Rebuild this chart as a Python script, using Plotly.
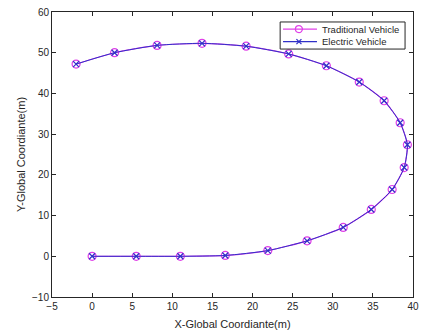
import plotly.graph_objects as go

x_trad = [0, 5.5, 11.0, 16.6, 21.9, 26.8, 31.3, 34.8, 37.4, 38.9, 39.3, 38.4, 36.4, 33.3, 29.2, 24.5, 19.2, 13.7, 8.1, 2.8, -2.0]
y_trad = [0, 0, 0, 0.2, 1.4, 3.8, 7.1, 11.5, 16.4, 21.8, 27.4, 32.8, 38.2, 42.8, 46.8, 49.7, 51.6, 52.3, 51.8, 50.0, 47.2]
x_elec = [0, 5.5, 11.0, 16.6, 21.9, 26.8, 31.3, 34.8, 37.4, 38.9, 39.3, 38.4, 36.4, 33.3, 29.2, 24.5, 19.2, 13.7, 8.1, 2.8, -2.0]
y_elec = [0, 0, 0, 0.2, 1.4, 3.8, 7.1, 11.5, 16.4, 21.8, 27.4, 32.8, 38.2, 42.8, 46.8, 49.7, 51.6, 52.3, 51.8, 50.0, 47.2]
series_names = ["Traditional Vehicle", "Electric Vehicle"]

TRAD_C = "#e040e8"
ELEC_C = "#3030c8"
FONT = "Liberation Sans, Arial"
TXT_C = "#262626"

fig = go.Figure()
fig.add_trace(go.Scatter(
    x=x_trad, y=y_trad, mode="lines+markers", name=series_names[0],
    line=dict(color=TRAD_C, width=1.2, shape="spline", smoothing=0.6),
    marker=dict(symbol="circle-open", size=8, color=TRAD_C, line=dict(width=1.2, color=TRAD_C)),
))
fig.add_trace(go.Scatter(
    x=x_elec, y=y_elec, mode="lines+markers", name=series_names[1],
    line=dict(color=ELEC_C, width=1.0, shape="spline", smoothing=0.6),
    marker=dict(symbol="x-thin-open", size=6, color=ELEC_C, line=dict(width=1.2, color=ELEC_C)),
))

axis_common = dict(
    showgrid=False, zeroline=False, showline=True, linecolor=TXT_C, linewidth=1,
    mirror="allticks", ticks="inside", ticklen=4, tickcolor=TXT_C, automargin=False,
    tickfont=dict(family=FONT, size=10, color=TXT_C),
)

# compact MATLAB-style legend (drawn in paper coordinates)
box_x0, box_x1, box_y0, box_y1 = 0.632, 0.978, 0.870, 0.965
rows_y = [0.940, 0.896]
line_x0, line_x1, mark_x, text_x = 0.640, 0.734, 0.684, 0.742
shapes = [dict(type="rect", xref="paper", yref="paper", x0=box_x0, x1=box_x1, y0=box_y0, y1=box_y1,
               line=dict(color=TXT_C, width=1), fillcolor="white", layer="above")]
annotations = []
colors = [TRAD_C, ELEC_C]
for i, ry in enumerate(rows_y):
    shapes.append(dict(type="line", xref="paper", yref="paper", x0=line_x0, x1=line_x1, y0=ry, y1=ry,
                       line=dict(color=colors[i], width=1.2), layer="above"))
    if i == 0:
        shapes.append(dict(type="circle", xref="paper", yref="paper", xsizemode="pixel", ysizemode="pixel",
                           xanchor=mark_x, yanchor=ry, x0=-3.5, x1=3.5, y0=-3.5, y1=3.5,
                           line=dict(color=colors[i], width=1.2), fillcolor="rgba(0,0,0,0)", layer="above"))
    else:
        for sgn in (1, -1):
            shapes.append(dict(type="line", xref="paper", yref="paper", xsizemode="pixel", ysizemode="pixel",
                               xanchor=mark_x, yanchor=ry, x0=-2.5, x1=2.5, y0=-2.5 * sgn, y1=2.5 * sgn,
                               line=dict(color=colors[i], width=1.2), layer="above"))
    annotations.append(dict(xref="paper", yref="paper", x=text_x, y=ry, text=series_names[i],
                            showarrow=False, xanchor="left", yanchor="middle",
                            font=dict(family=FONT, size=9.5, color=TXT_C)))

fig.update_layout(
    width=427, height=336,
    margin=dict(l=52, r=14, t=12, b=39),
    paper_bgcolor="white", plot_bgcolor="white",
    xaxis=dict(range=[-5, 40], tickmode="array", tickvals=list(range(-5, 41, 5)),
               title=dict(text="X-Global Coordiante(m)", standoff=9,
                          font=dict(family=FONT, size=11, color=TXT_C)),
               **axis_common),
    yaxis=dict(range=[-10, 60], tickmode="array", tickvals=list(range(-10, 61, 10)),
               title=dict(text="Y-Global Coordiante(m)", standoff=4,
                          font=dict(family=FONT, size=11, color=TXT_C)),
               **axis_common),
    showlegend=False,
    shapes=shapes,
    annotations=annotations,
)
fig.write_html("out.html")
